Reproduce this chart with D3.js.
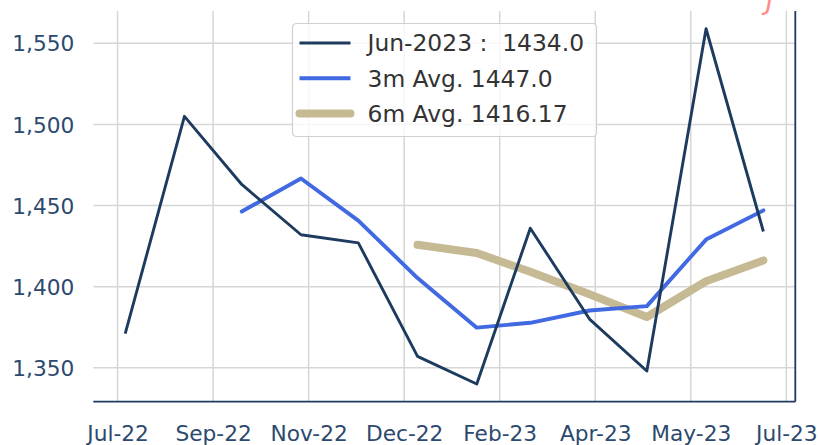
<!DOCTYPE html>
<html>
<head>
<meta charset="utf-8">
<script src="https://cdn.jsdelivr.net/npm/d3@7"></script>
<style>
    body { margin: 0; background: #fff; }
    svg { display: block; font-family: "DejaVu Sans", sans-serif; }
</style>
</head>
<body>
<div class="chart"></div>
<script>
(function () {
    "use strict";

    // month-end dates, Jul-2022 .. Jun-2023
    var dates = ['2022-07-31', '2022-08-31', '2022-09-30', '2022-10-31', '2022-11-30', '2022-12-31',
        '2023-01-31', '2023-02-28', '2023-03-31', '2023-04-30', '2023-05-31', '2023-06-30'];
    var monthly = [1371, 1505, 1463, 1432, 1427, 1357, 1340, 1436, 1380, 1348, 1559, 1434];
    // rolling averages (start at 3rd and 6th month)
    var avg3 = [1446.3, 1466.7, 1440.7, 1405.3, 1374.7, 1377.7, 1385.3, 1388.0, 1429.0, 1447.0];
    var avg6 = [1425.8, 1420.7, 1409.2, 1395.3, 1381.3, 1403.3, 1416.17];
    var xTickDates = ['2022-07-27', '2022-09-15', '2022-11-04', '2022-12-24',
        '2023-02-12', '2023-04-03', '2023-05-23', '2023-07-12'];
    var yTicks = [1350, 1400, 1450, 1500, 1550];
    var legendLabels = ['Jun-2023 :  1434.0', '3m Avg. 1447.0', '6m Avg. 1416.17'];

    var config = {
        width: 818,
        height: 445,
        margin: { top: 11, right: 22.7, bottom: 43.3, left: 93.3 },
        axisColor: '#1f3a60',
        labelColor: '#2d4a6e',
        gridColor: '#d6d6d6',
        fontSize: 21.7,
        legendFontSize: 23.4
    };

    var parse = d3.utcParse('%Y-%m-%d');
    var series = [
        { name: legendLabels[0], color: '#1d3a5f', width: 2.9,
            values: monthly.map(function (v, i) { return { date: parse(dates[i]), value: v }; }) },
        { name: legendLabels[1], color: '#4169e1', width: 3.9,
            values: avg3.map(function (v, i) { return { date: parse(dates[i + 2]), value: v }; }) },
        { name: legendLabels[2], color: '#c5ba93', width: 8,
            values: avg6.map(function (v, i) { return { date: parse(dates[i + 5]), value: v }; }) }
    ];

    var margin = config.margin;
    var w = config.width - margin.left - margin.right;
    var h = config.height - margin.top - margin.bottom;

    var svg = d3.select('.chart').append('svg')
        .attr('width', config.width)
        .attr('height', config.height);

    // clipped red annotation peeking in at the very top
    svg.append('text')
        .attr('x', 766)
        .attr('y', 9)
        .attr('fill', '#ff8a8a')
        .style('font-size', '26px')
        .style('font-style', 'italic')
        .text('J');

    var g = svg.append('g')
        .attr('transform', 'translate(' + margin.left + ',' + margin.top + ')');

    var t0 = parse(dates[0]).getTime();
    var t1 = parse(dates[dates.length - 1]).getTime();
    var tPad = (t1 - t0) * 0.05;
    var x = d3.scaleUtc()
        .domain([new Date(t0 - tPad), new Date(t1 + tPad)])
        .range([0, w]);

    var vMin = d3.min(monthly), vMax = d3.max(monthly);
    var vPad = (vMax - vMin) * 0.05;
    var y = d3.scaleLinear()
        .domain([vMin - vPad, vMax + vPad])
        .range([h, 0]);

    // grid
    g.append('g').selectAll('line')
        .data(yTicks)
        .enter().append('line')
        .attr('x1', 0).attr('x2', w)
        .attr('y1', function (d) { return y(d); })
        .attr('y2', function (d) { return y(d); })
        .attr('stroke', config.gridColor)
        .attr('stroke-width', 1.5);

    g.append('g').selectAll('line')
        .data(xTickDates.map(parse))
        .enter().append('line')
        .attr('x1', function (d) { return x(d); })
        .attr('x2', function (d) { return x(d); })
        .attr('y1', 0).attr('y2', h)
        .attr('stroke', config.gridColor)
        .attr('stroke-width', 1.5);

    // axes
    var xAxis = g.append('g')
        .attr('transform', 'translate(0,' + h + ')')
        .call(d3.axisBottom(x)
            .tickValues(xTickDates.map(parse))
            .tickFormat(d3.utcFormat('%b-%y'))
            .tickSize(0)
            .tickPadding(24));
    var yAxis = g.append('g')
        .call(d3.axisLeft(y)
            .tickValues(yTicks)
            .tickFormat(d3.format(','))
            .tickSize(0)
            .tickPadding(19));

    [xAxis, yAxis].forEach(function (ax) {
        ax.select('.domain').remove();
        ax.selectAll('text')
            .attr('fill', config.labelColor)
            .style('font-size', config.fontSize + 'px')
            .style('font-family', '"DejaVu Sans", sans-serif');
    });
    yAxis.selectAll('text').attr('dy', '0.35em');

    g.append('line')
        .attr('x1', 0).attr('x2', w)
        .attr('y1', h).attr('y2', h)
        .attr('stroke', config.axisColor)
        .attr('stroke-width', 1.8);
    g.append('line')
        .attr('x1', w).attr('x2', w)
        .attr('y1', 0).attr('y2', h)
        .attr('stroke', config.axisColor)
        .attr('stroke-width', 1.8);

    // lines
    var line = d3.line()
        .x(function (d) { return x(d.date); })
        .y(function (d) { return y(d.value); });

    g.append('g').selectAll('path')
        .data(series.slice().reverse())
        .enter().append('path')
        .attr('d', function (d) { return line(d.values); })
        .attr('fill', 'none')
        .attr('stroke', function (d) { return d.color; })
        .attr('stroke-width', function (d) { return d.width; })
        .attr('stroke-linejoin', 'round')
        .attr('stroke-linecap', function (d, i) { return i === 2 ? 'butt' : 'round'; });

    // legend
    var legend = svg.append('g')
        .attr('transform', 'translate(292.5,23.5)');
    legend.append('rect')
        .attr('width', 304)
        .attr('height', 113)
        .attr('rx', 4)
        .attr('fill', 'rgba(255,255,255,0.8)')
        .attr('stroke', '#d0d0d0')
        .attr('stroke-width', 1.2);

    var rows = legend.selectAll('.row')
        .data(series)
        .enter().append('g')
        .attr('class', 'row')
        .attr('transform', function (d, i) { return 'translate(0,' + (19.5 + i * 35.3) + ')'; });
    rows.append('line')
        .attr('x1', 7).attr('x2', 58)
        .attr('stroke', function (d) { return d.color; })
        .attr('stroke-width', function (d) { return d.width; })
        .attr('stroke-linecap', function (d, i) { return i === 2 ? 'round' : 'butt'; });
    rows.append('text')
        .attr('x', 75)
        .attr('dy', '0.35em')
        .attr('fill', '#333')
        .style('font-size', config.legendFontSize + 'px')
        .style('white-space', 'pre')
        .text(function (d) { return d.name; });
})();
</script>
</body>
</html>
